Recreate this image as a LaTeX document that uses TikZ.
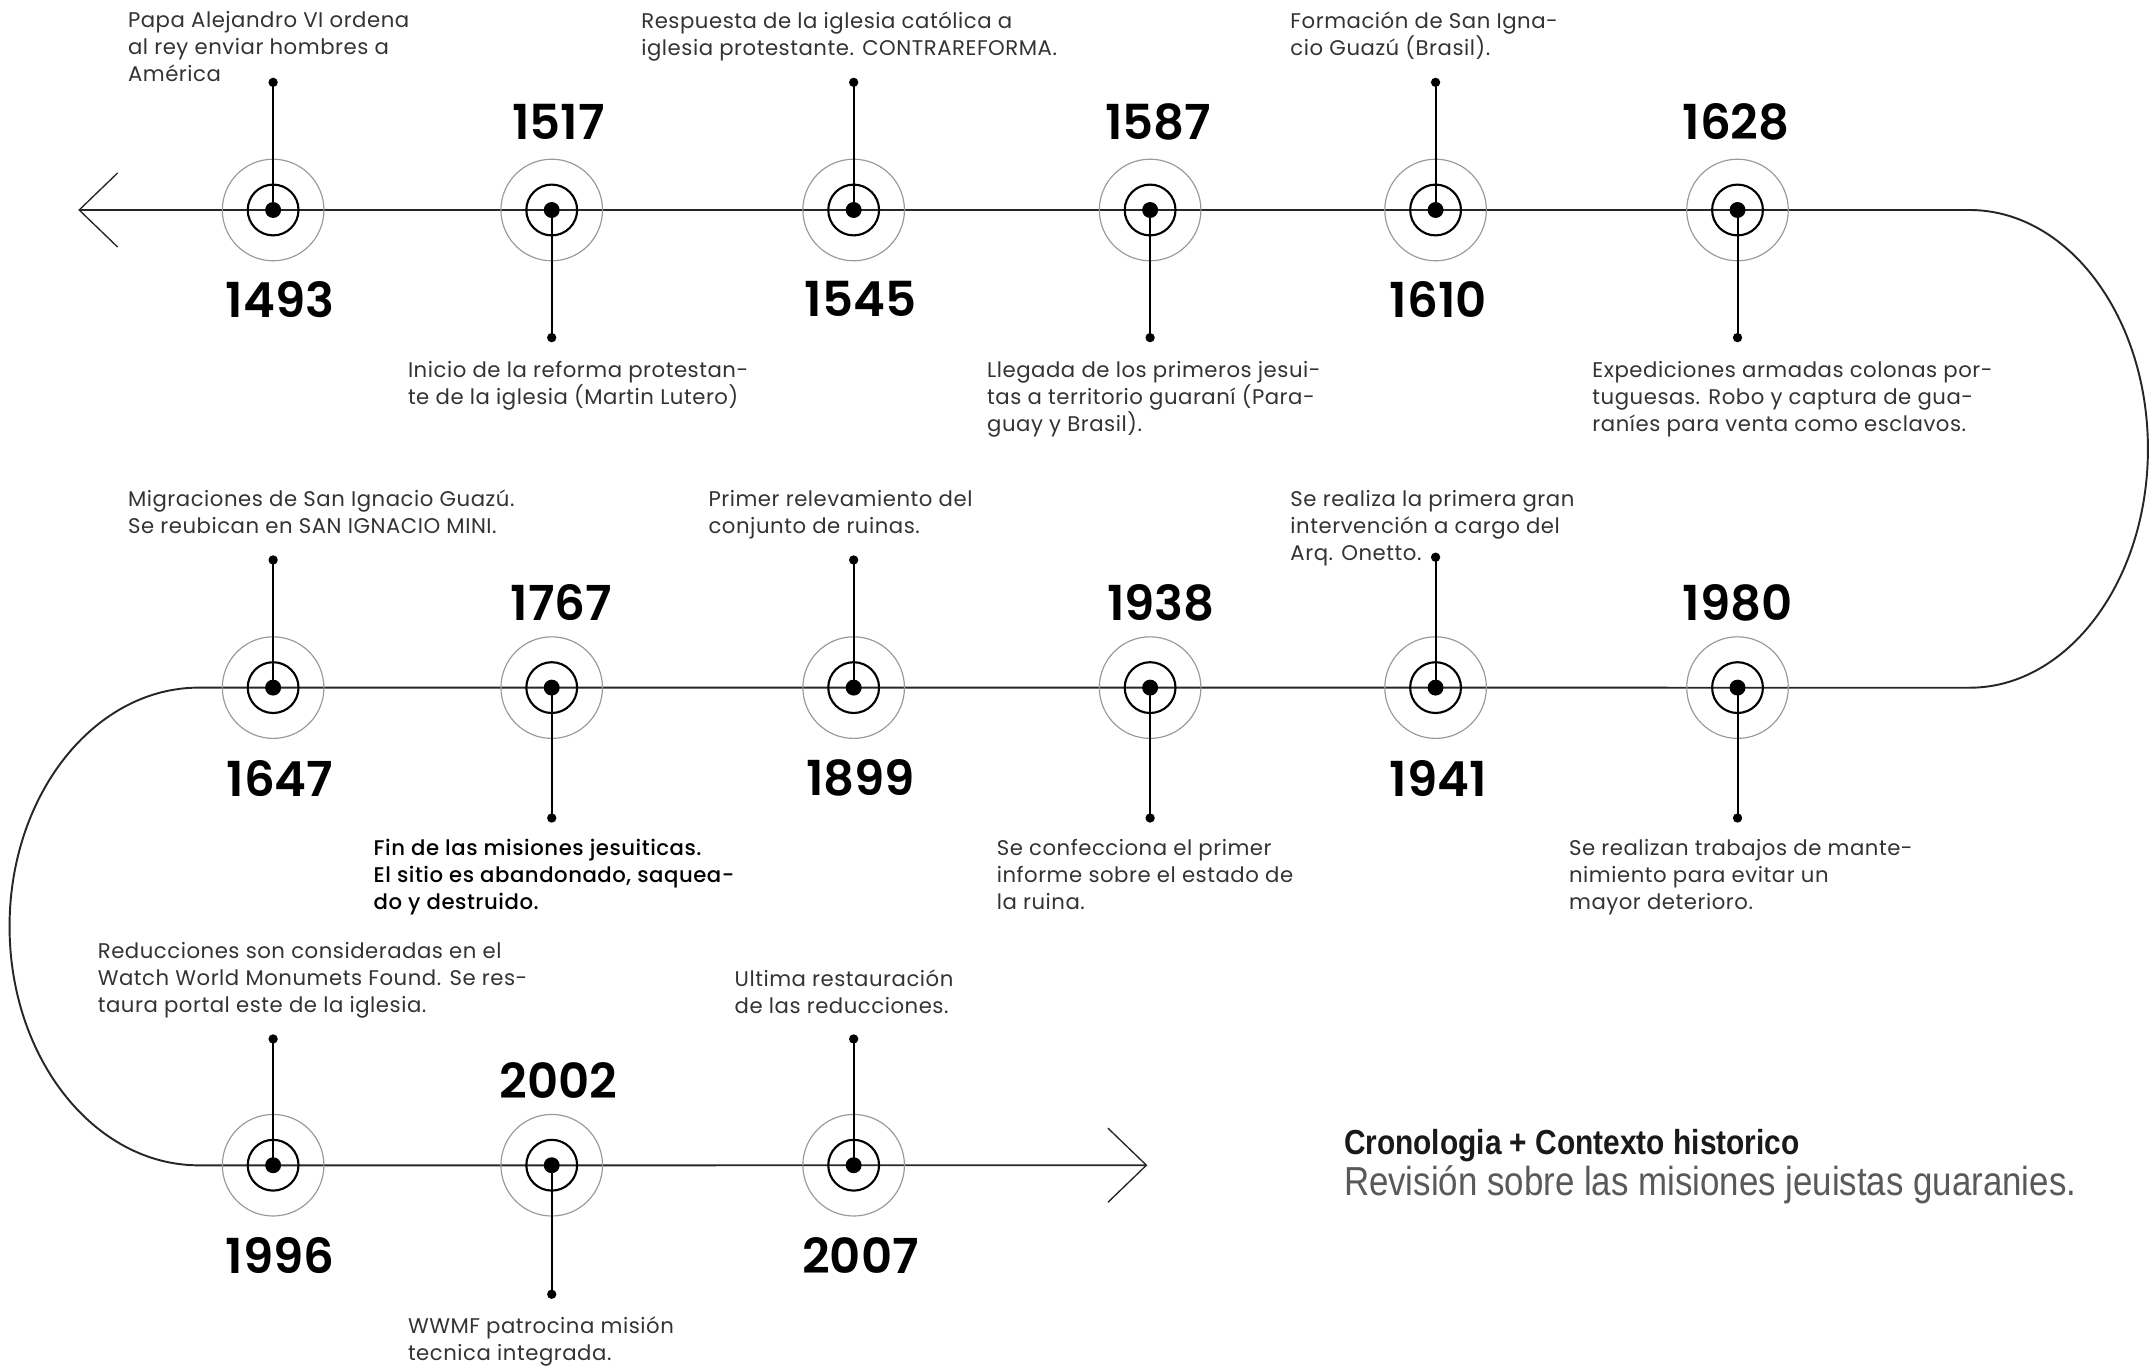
\documentclass[tikz,border=0pt]{standalone}
\usepackage{fontspec}
\setmainfont{Poppins}
\newfontfamily\notefont{Poppins}[LetterSpace=2.5]
\IfFontExistsTF{Poppins Medium}{\newfontfamily\medfont{Poppins Medium}[LetterSpace=2.5]}{\newcommand{\medfont}{\bfseries}}
\IfFontExistsTF{Poppins SemiBold}{\newfontfamily\yearfont{Poppins SemiBold}}{\newcommand{\yearfont}{\bfseries}}
\newfontfamily\titlefont{Liberation Sans}[FakeStretch=0.86]
\usetikzlibrary{arrows.meta,positioning}

\begin{document}
\begin{tikzpicture}[
    x=0.025cm, y=-0.025cm,
    track/.style={line width=1pt, draw=black!85,
      {Straight Barb[length=7mm, width=13.5mm, line width=0.7pt]}-{Straight Barb[length=7mm, width=13.5mm, line width=0.7pt]}},
    ring/.style={draw=black!40, line width=0.6pt},
    hub/.style={circle, draw=black, line width=1.1pt, minimum size=0.925cm, inner sep=0pt,
      path picture={\fill[black] (path picture bounding box.center) circle (0.145cm);}},
    enddot/.style={circle, fill=black, minimum size=0.17cm, inner sep=0pt},
    stem/.style={line width=1pt},
    year/.style={font=\yearfont\fontsize{25}{25}\selectfont, inner sep=0pt},
    note/.style={anchor=north west, align=left, inner sep=0pt, text=black!80,
      font=\notefont\fontsize{11}{14}\selectfont}
  ]
  \useasboundingbox[fill=white] (0,0) rectangle (1568,996);

  % Track
  \coordinate (tipL) at (57,153);
  \coordinate (bendA) at (1435,153);
  \coordinate (bendB) at (145,501);
  \coordinate (tipR) at (836,849);
  \draw[track] (tipL) -- (bendA)
    arc[start angle=90, end angle=-90, x radius=3.25cm, y radius=4.35cm]
    -- (bendB)
    arc[start angle=90, end angle=270, x radius=3.45cm, y radius=4.35cm]
    -- (tipR);

  % Hubs -- row 1
  \node[hub] (h1493) at (199,153) {};
  \node[hub] (h1517) at (402,153) {};
  \node[hub] (h1545) at (622,153) {};
  \node[hub] (h1587) at (838,153) {};
  \node[hub] (h1610) at (1046,153) {};
  \node[hub] (h1628) at (1266,153) {};
  % row 2
  \node[hub] (h1647) at (199,501) {};
  \node[hub] (h1767) at (402,501) {};
  \node[hub] (h1899) at (622,501) {};
  \node[hub] (h1938) at (838,501) {};
  \node[hub] (h1941) at (1046,501) {};
  \node[hub] (h1980) at (1266,501) {};
  % row 3
  \node[hub] (h1996) at (199,849) {};
  \node[hub] (h2002) at (402,849) {};
  \node[hub] (h2007) at (622,849) {};
  \foreach \h in {1493,1517,1545,1587,1610,1628,1647,1767,1899,1938,1941,1980,1996,2002,2007}
    \draw[ring] (h\h) circle (0.925cm);

  % Years
  \node[year] (y1493) at (204,218) {1493};
  \node[year] (y1517) at (407,89) {1517};
  \node[year] (y1545) at (627,218) {1545};
  \node[year] (y1587) at (844,89) {1587};
  \node[year] (y1610) at (1048,218) {1610};
  \node[year] (y1628) at (1265,89) {1628};
  \node[year] (y1647) at (204,567) {1647};
  \node[year] (y1767) at (409,439) {1767};
  \node[year] (y1899) at (627,567) {1899};
  \node[year] (y1938) at (846,439) {1938};
  \node[year] (y1941) at (1048,567) {1941};
  \node[year] (y1980) at (1266,439) {1980};
  \node[year] (y1996) at (204,915) {1996};
  \node[year] (y2002) at (407,787) {2002};
  \node[year] (y2007) at (627,915) {2007};

  % End dots
  \node[enddot] (d1493) at (199,60) {};
  \node[enddot] (d1517) at (402,246) {};
  \node[enddot] (d1545) at (622,60) {};
  \node[enddot] (d1587) at (838,246) {};
  \node[enddot] (d1610) at (1046,60) {};
  \node[enddot] (d1628) at (1266,246) {};
  \node[enddot] (d1647) at (199,408) {};
  \node[enddot] (d1767) at (402,596) {};
  \node[enddot] (d1899) at (622,408) {};
  \node[enddot] (d1938) at (838,596) {};
  \node[enddot] (d1941) at (1046,406) {};
  \node[enddot] (d1980) at (1266,596) {};
  \node[enddot] (d1996) at (199,757) {};
  \node[enddot] (d2002) at (402,943) {};
  \node[enddot] (d2007) at (622,757) {};

  % Stems
  \foreach \h in {1493,1517,1545,1587,1610,1628,1647,1767,1899,1938,1941,1980,1996,2002,2007}
    \draw[stem] (h\h.center) -- (d\h.center);

  % Notes
  \node[note] (n1493) at (93,8) {Papa Alejandro VI ordena\\al rey enviar hombres a\\América};
  \node[note] (n1517) at (297,263) {Inicio de la reforma protestan-\\te de la iglesia (Martin Lutero)};
  \node[note] (n1545) at (467,8) {Respuesta de la iglesia católica a\\iglesia protestante. CONTRAREFORMA.};
  \node[note] (n1587) at (719,263) {Llegada de los primeros jesui-\\tas a territorio guaraní (Para-\\guay y Brasil).};
  \node[note] (n1610) at (940,8) {Formación de San Igna-\\cio Guazú (Brasil).};
  \node[note] (n1628) at (1160,263) {Expediciones armadas colonas por-\\tuguesas. Robo y captura de gua-\\raníes para venta como esclavos.};
  \node[note] (n1647) at (93,357) {Migraciones de San Ignacio Guazú.\\Se reubican en SAN IGNACIO MINI.};
  \node[note, text=black, font=\medfont\fontsize{11}{14}\selectfont] (n1767) at (272,611) {Fin de las misiones jesuiticas.\\El sitio es abandonado, saquea-\\do y destruido.};
  \node[note] (n1899) at (516,357) {Primer relevamiento del\\conjunto de ruinas.};
  \node[note] (n1938) at (726,611) {Se confecciona el primer\\informe sobre el estado de\\la ruina.};
  \node[note] (n1941) at (940,357) {Se realiza la primera gran\\intervención a cargo del\\Arq. Onetto.};
  \node[note] (n1980) at (1143,611) {Se realizan trabajos de mante-\\nimiento para evitar un\\mayor deterioro.};
  \node[note] (n1996) at (71,686) {Reducciones son consideradas en el\\Watch World Monumets Found. Se res-\\taura portal este de la iglesia.};
  \node[note] (n2002) at (297,959) {WWMF patrocina misión\\tecnica integrada.};
  \node[note] (n2007) at (535,706) {Ultima restauración\\de las reducciones.};

  % Title
  \node[anchor=west, inner sep=0pt, text=black!90, font=\titlefont\bfseries\fontsize{18}{20}\selectfont] (ttl) at (979,835) {Cronologia + Contexto historico};
  \node[anchor=west, inner sep=0pt, text=black!65, font=\titlefont\fontsize{21}{24}\selectfont] (sub) at (979,863) {Revisión sobre las misiones jeuistas guaranies.};
\end{tikzpicture}
\end{document}
